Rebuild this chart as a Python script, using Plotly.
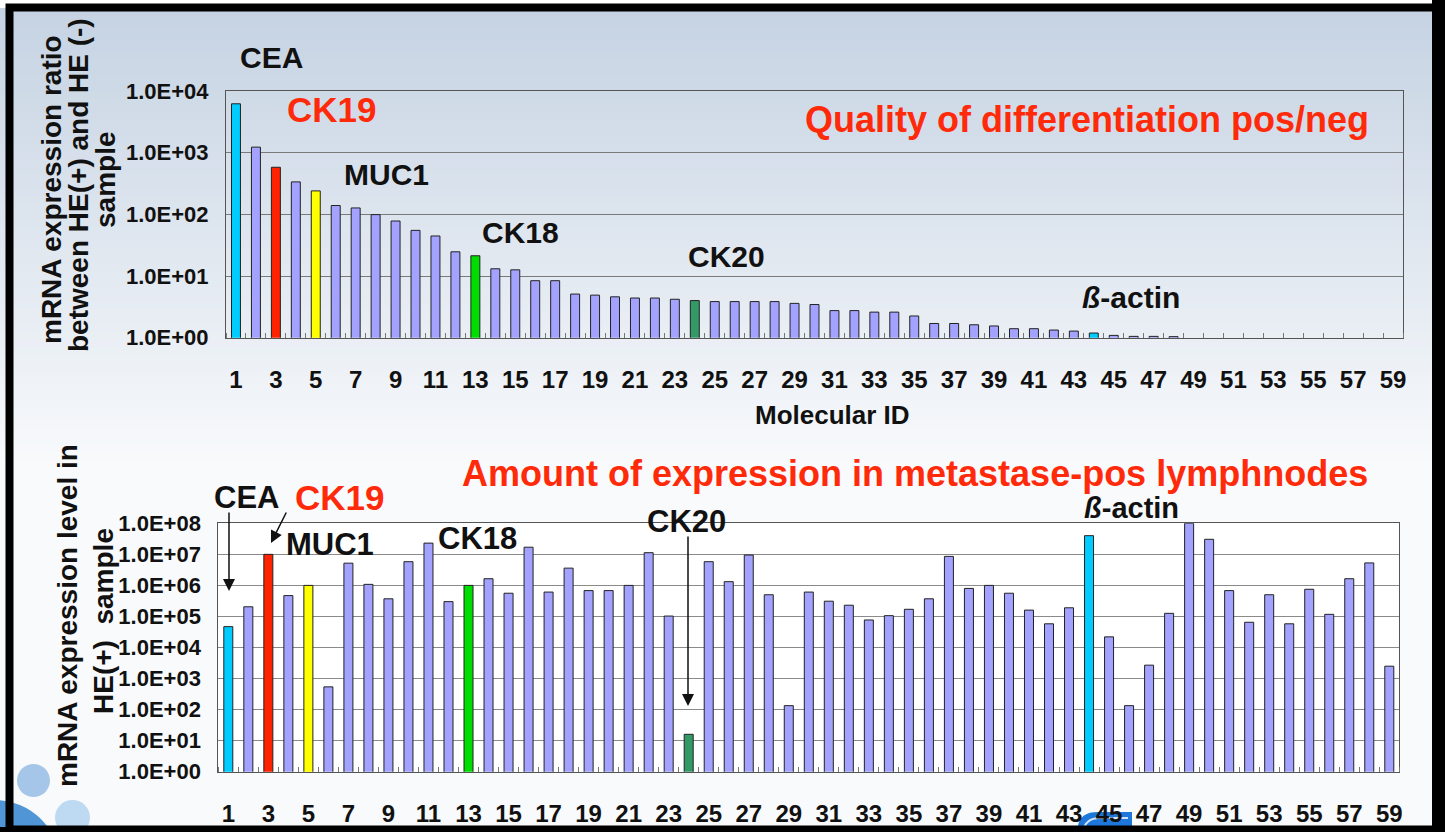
import plotly.graph_objects as go

W, H = 1445, 832
FONT = "Liberation Sans, Arial, Helvetica, sans-serif"

# ---------------- data ----------------
molecular_id = list(range(1, 60))
tick_ids = list(range(1, 60, 2))

ratio_values = [6200, 1230, 580, 336, 240, 139, 127, 99, 78, 55,
                44.6, 24.7, 21.3, 13.1, 12.6, 8.4, 8.4, 5.1, 4.9, 4.6,
                4.4, 4.4, 4.2, 4.0, 3.85, 3.85, 3.85, 3.85, 3.6, 3.45,
                2.75, 2.75, 2.6, 2.6, 2.25, 1.7, 1.7, 1.62, 1.55, 1.4,
                1.4, 1.33, 1.28, 1.19, 1.09, 1.05, 1.05, 1.04, None, None,
                None, None, None, None, None, None, None, None, None]

level_values = [4.7e4, 2.05e5, 1.0e7, 4.7e5, 1.0e6, 540, 5.2e6, 1.08e6, 3.7e5, 5.8e6,
                2.3e7, 3.0e5, 1.0e6, 1.64e6, 5.6e5, 1.7e7, 6.1e5, 3.6e6, 6.8e5, 6.8e5,
                1.0e6, 1.13e7, 1.03e5, 16, 5.8e6, 1.32e6, 9.5e6, 5.0e5, 134, 6.1e5,
                3.1e5, 2.3e5, 7.7e4, 1.06e5, 1.7e5, 3.7e5, 8.6e6, 8.0e5, 1.0e6, 5.6e5,
                1.6e5, 5.8e4, 1.9e5, 4.0e7, 2.2e4, 134, 2.7e3, 1.26e5, 1.0e8, 3.05e7,
                6.8e5, 6.5e4, 5.0e5, 5.8e4, 7.5e5, 1.17e5, 1.64e6, 5.3e6, 2.5e3]

marker_names = ["CEA", "CK19", "MUC1", "CK18", "CK20", "ß-actin"]
marker_ids = [1, 3, 5, 13, 24, 44]
marker_colors = ["#00CCFF", "#FF2200", "#FFFF00", "#00DD00", "#339966", "#00CCFF"]
default_color = "#A3A3FF"

top_ticks = [1, 10, 100, 1000, 10000]
top_ticktext = ["1.0E+00", "1.0E+01", "1.0E+02", "1.0E+03", "1.0E+04"]
bot_ticks = [10 ** k for k in range(9)]
bot_ticktext = ["1.0E+0%d" % k for k in range(9)]

# ---------------- helpers ----------------
def X(px):
    return px / W

def Y(py):
    return 1 - py / H

color_map = dict(zip(marker_ids, marker_colors))
bar_colors = [color_map.get(i, default_color) for i in molecular_id]

fig = go.Figure()

fig.add_trace(go.Bar(x=molecular_id, y=ratio_values, marker_color=bar_colors,
                     marker_line=dict(color="#222222", width=1), width=0.45,
                     xaxis="x", yaxis="y", showlegend=False, hoverinfo="skip"))
fig.add_trace(go.Bar(x=molecular_id, y=level_values, marker_color=bar_colors,
                     marker_line=dict(color="#222222", width=1), width=0.45,
                     xaxis="x2", yaxis="y2", showlegend=False, hoverinfo="skip"))

axis_common = dict(showline=True, linecolor="#555555", linewidth=1, mirror=True,
                   automargin=False, fixedrange=True)
tickfont = dict(family=FONT, size=24, color="#111111", weight="bold")
ytickfont = dict(family=FONT, size=22, color="#111111", weight="bold")

fig.update_layout(
    width=W, height=H,
    margin=dict(l=0, r=0, t=0, b=0, pad=0, autoexpand=False),
    paper_bgcolor="white",
    plot_bgcolor="rgba(0,0,0,0)",
    bargap=0.5,
    hovermode=False,
    xaxis=dict(domain=[X(226), X(1403)], anchor="y", range=[0.5, 59.5],
               tickvals=tick_ids, ticktext=[str(t) for t in tick_ids],
               ticks="", tickfont=tickfont, ticklabelstandoff=20,
               showgrid=False,
               minor=dict(tick0=0.5, dtick=1, ticks="inside", ticklen=5,
                          tickcolor="#777777", showgrid=False),
               **axis_common),
    yaxis=dict(domain=[Y(337.7), Y(91)], anchor="x", type="log", range=[0, 4],
               tickvals=top_ticks, ticktext=top_ticktext, ticks="",
               tickfont=ytickfont, ticklabelstandoff=12,
               showgrid=True, gridcolor="#7a7a7a", gridwidth=1,
               **axis_common),
    xaxis2=dict(domain=[X(218.3), X(1399.3)], anchor="y2", range=[0.5, 59.5],
                tickvals=tick_ids, ticktext=[str(t) for t in tick_ids],
                ticks="", tickfont=tickfont, ticklabelstandoff=20,
                showgrid=False,
                minor=dict(tick0=0.5, dtick=1, ticks="inside", ticklen=5,
                           tickcolor="#777777", showgrid=False),
                **axis_common),
    yaxis2=dict(domain=[Y(771.7), Y(523.3)], anchor="x2", type="log", range=[0, 8],
                tickvals=bot_ticks, ticktext=bot_ticktext, ticks="",
                tickfont=ytickfont, ticklabelstandoff=12,
                showgrid=True, gridcolor="#8a8a8a", gridwidth=1,
                **axis_common),
)

# ---------------- background ----------------
shapes = []
c0 = (198, 211, 227)
c1 = (247, 249, 251)
n = 60
y_start, y_end = 8, 460
for k in range(n):
    t = k / (n - 1)
    c = tuple(int(round(c0[j] + (c1[j] - c0[j]) * t)) for j in range(3))
    ya = y_start + (y_end - y_start) * k / n
    yb = y_start + (y_end - y_start) * (k + 1) / n + 1
    shapes.append(dict(type="rect", xref="paper", yref="paper", layer="below",
                       x0=0, x1=1, y0=Y(yb), y1=Y(ya),
                       fillcolor="rgb(%d,%d,%d)" % c, line=dict(width=0)))
shapes.append(dict(type="rect", xref="paper", yref="paper", layer="below",
                   x0=0, x1=1, y0=0, y1=Y(y_end),
                   fillcolor="rgb(249,250,252)", line=dict(width=0)))
# white plot area of lower chart
shapes.append(dict(type="rect", xref="paper", yref="paper", layer="below",
                   x0=X(218.3), x1=X(1399.3), y0=Y(771.7), y1=Y(523.3),
                   fillcolor="white", line=dict(width=0)))
# decorative circles bottom-left
shapes.append(dict(type="circle", xref="paper", yref="paper", layer="below",
                   x0=X(-70), x1=X(60), y0=Y(930), y1=Y(800),
                   fillcolor="rgb(80,150,215)", line=dict(width=0)))
shapes.append(dict(type="circle", xref="paper", yref="paper", layer="below",
                   x0=X(17), x1=X(50), y0=Y(797), y1=Y(764),
                   fillcolor="rgb(165,198,232)", line=dict(width=0)))
shapes.append(dict(type="circle", xref="paper", yref="paper", layer="below",
                   x0=X(55), x1=X(90), y0=Y(835), y1=Y(800),
                   fillcolor="rgb(190,218,242)", line=dict(width=0)))
# decorative blue arch bottom centre
path = "M %f,%f L %f,%f Q %f,%f %f,%f L %f,%f L %f,%f Z" % (
    X(1078), Y(832), X(1078), Y(826), X(1080), Y(812), X(1098), Y(812),
    X(1132), Y(812), X(1132), Y(832))
shapes.append(dict(type="path", xref="paper", yref="paper", layer="below",
                   path=path, fillcolor="rgb(30,120,220)", line=dict(width=0)))
path2 = "M %f,%f Q %f,%f %f,%f L %f,%f" % (
    X(1083), Y(832), X(1085), Y(818), X(1100), Y(818), X(1128), Y(818))
shapes.append(dict(type="path", xref="paper", yref="paper", layer="below",
                   path=path2, line=dict(color="rgba(255,255,255,0.8)", width=2)))
# black frame
shapes.append(dict(type="rect", xref="paper", yref="paper", layer="above",
                   x0=X(9.5), x1=X(1436), y0=Y(829.5), y1=Y(7.5),
                   line=dict(color="black", width=8)))
shapes.append(dict(type="rect", xref="paper", yref="paper", layer="above",
                   x0=X(1432), x1=1, y0=0, y1=1,
                   fillcolor="black", line=dict(width=0)))
shapes.append(dict(type="rect", xref="paper", yref="paper", layer="above",
                   x0=0, x1=1, y0=0, y1=Y(827),
                   fillcolor="black", line=dict(width=0)))
fig.update_layout(shapes=shapes)

# ---------------- annotations ----------------
ann = []

def label(text, px, py, size, color="#111111", xanchor="center"):
    ann.append(dict(text=text, xref="paper", yref="paper", x=X(px), y=Y(py),
                    xanchor=xanchor, yanchor="middle", showarrow=False,
                    font=dict(family=FONT, size=size, color=color, weight="bold")))

def vlabel(text, px, py, size):
    ann.append(dict(text=text, xref="paper", yref="paper", x=X(px), y=Y(py),
                    xanchor="center", yanchor="middle", showarrow=False, textangle=-90,
                    font=dict(family=FONT, size=size, color="#111111", weight="bold")))

def arrow(tip, tail):
    ann.append(dict(text="", xref="paper", yref="paper", x=X(tip[0]), y=Y(tip[1]),
                    ax=tail[0] - tip[0], ay=tail[1] - tip[1], showarrow=True,
                    arrowhead=2, arrowsize=1.6, arrowwidth=1.5, arrowcolor="#111111"))

RED = "#FF2A0A"
# top chart
label("Quality of differentiation pos/neg", 1087, 119, 36, RED)
label(marker_names[0], 271, 57, 30)
label(marker_names[1], 331, 109, 35, RED)
label(marker_names[2], 386, 175, 30)
label(marker_names[3], 520, 233, 30)
label(marker_names[4], 726, 256, 30)
label("<i>ß</i>-actin", 1131, 297, 30)
label("Molecular ID", 832, 415, 26)
vlabel("mRNA expression ratio", 52, 190, 28)
vlabel("between HE(+) and HE (-)", 79, 185, 28)
vlabel("sample", 105, 180, 28)

# bottom chart
label("Amount of expression in metastase-pos lymphnodes", 915, 473, 36, RED)
label(marker_names[0], 246, 497, 31)
label(marker_names[1], 339, 497, 35, RED)
label(marker_names[2], 330, 544, 31)
label(marker_names[3], 477, 538, 31)
label(marker_names[4], 686, 521, 31)
label("<i>ß</i>-actin", 1131, 508, 29)
vlabel("mRNA expression level in", 67, 616, 28)
vlabel("HE(+)  sample", 103, 621, 28)

arrow((229, 591), (229, 511))
arrow((271, 543), (287, 511))
arrow((688, 706), (688, 535))

fig.update_layout(annotations=ann)

fig.write_html("out.html",
               config={"displayModeBar": False, "staticPlot": True},
               post_script="document.body.style.margin='0';"
                           "document.body.style.overflow='hidden';")
